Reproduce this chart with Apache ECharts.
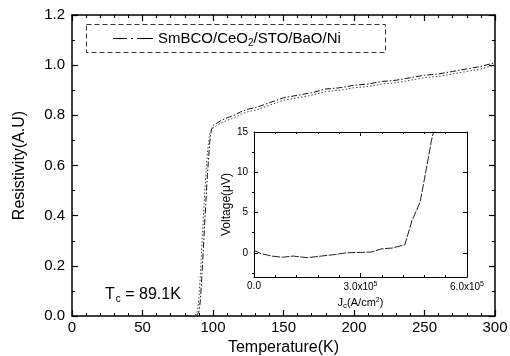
<!DOCTYPE html>
<html><head><meta charset="utf-8">
<script src="https://cdn.jsdelivr.net/npm/echarts@6/dist/echarts.min.js"></script>
<style>html,body{margin:0;padding:0;background:#fff}#c{width:510px;height:356px}</style>
</head><body><div id="c"></div>
<script>
// Main R(T) data
const temps1 = [80,85,88,89,90,91,92,93,94,95,96,97,98,99,100,103,106,110,115,120,125,130,135,140,145,150,160,170,180,190,200,210,220,230,240,250,260,270,280,290,300];
const resist1 = [0,0,0,0.003,0.015,0.06,0.15,0.25,0.36,0.46,0.56,0.64,0.71,0.745,0.76,0.77,0.78,0.79,0.80,0.815,0.825,0.83,0.84,0.85,0.86,0.87,0.88,0.89,0.905,0.91,0.92,0.925,0.935,0.94,0.95,0.96,0.965,0.975,0.985,0.995,1.01];
const temps2 = [80,85,87,88,89,90,91,92,93,94,95,96,97,98,100,103,106,110,115,120,125,130,135,140,145,150,160,170,180,190,200,210,220,230,240,250,260,270,280,290,300];
const resist2 = [0,0,0,0.004,0.02,0.07,0.16,0.27,0.38,0.48,0.57,0.65,0.7,0.735,0.75,0.76,0.77,0.78,0.79,0.805,0.815,0.82,0.83,0.84,0.85,0.86,0.87,0.88,0.895,0.9,0.91,0.915,0.925,0.93,0.94,0.95,0.955,0.965,0.975,0.985,1.0];
// Inset V(Jc) data
const jc = [0,20000,50000,80000,110000,150000,190000,230000,260000,300000,330000,360000,390000,425000,445000,468000,490000,500000,506000];
const volt = [0.3,-0.1,-0.4,-0.55,-0.4,-0.6,-0.4,-0.2,0,0.05,0.1,0.5,0.6,1.0,4.0,6.3,11.5,14,15];
const insetXLabels = [0,300000,600000];
const insetYLabels = [0,5,10,15];
const insetYMinor = [-2.5,2.5,7.5,12.5];

const FONT = 'Liberation Sans';
const chart = echarts.init(document.getElementById('c'), null, {renderer:'canvas'});
function axLine(w){ return {show:true, onZero:false, lineStyle:{color:'#000', width:w}}; }
function mTick(){ return {show:true, inside:true, length:6, lineStyle:{color:'#000',width:1.2}}; }
function mMinor(n){ return {show:true, splitNumber:n, length:3, lineStyle:{color:'#000',width:1}}; }
function pair(xs, ys){ return xs.map((x,i)=>[x, ys[i]]); }

chart.setOption({
  animation:false,
  backgroundColor:'#fff',
  textStyle:{fontFamily:FONT},
  grid:[{left:72, right:15, top:15, bottom:40, outerBoundsMode:'none', containLabel:false},
        {left:254, right:43, top:132, bottom:79, outerBoundsMode:'none', containLabel:false}],
  legend:{
    data:['SmBCO/CeO2/STO/BaO/Ni'],
    left:108, top:26, itemWidth:40, itemHeight:10,
    icon:'path://M0,5L14,5L14,6L0,6Z M18,5L20,5L20,6L18,6Z M24,5L40,5L40,6L24,6Z',
    itemStyle:{color:'#000'},
    formatter:function(){ return '{t|SmBCO/CeO}{s|2}{t|/STO/BaO/Ni}'; },
    textStyle:{rich:{t:{fontSize:15,fontFamily:FONT,color:'#000'}, s:{fontSize:10,fontFamily:FONT,color:'#000',verticalAlign:'bottom',padding:[10,0,0,0]}}}
  },
  xAxis:[
    {gridIndex:0, type:'value', min:0, max:300, interval:50, axisLine:axLine(1.5),
     axisTick:mTick(), minorTick:mMinor(5),
     axisLabel:{color:'#000', fontSize:15, margin:4, fontFamily:FONT},
     splitLine:{show:false},
     name:'Temperature(K)', nameLocation:'middle', nameGap:20, nameTextStyle:{color:'#000', fontSize:16, fontFamily:FONT}},
    {gridIndex:0, type:'value', position:'top', min:0, max:300, interval:50, axisLine:axLine(1.5),
     axisTick:mTick(), minorTick:mMinor(5),
     axisLabel:{show:false}, splitLine:{show:false}},
    {gridIndex:1, type:'value', min:0, max:600000, interval:300000, axisLine:axLine(1),
     axisTick:{show:true, inside:true, length:4, lineStyle:{color:'#000'}},
     minorTick:{show:true, splitNumber:5, length:2, lineStyle:{color:'#000'}},
     axisLabel:{color:'#000', margin:4, fontSize:10, customValues:insetXLabels,
       formatter:function(v){ if(v===0) return '{b|0.0}'; return '{b|'+(v/100000).toFixed(1)+'x10}{s|5}'; },
       rich:{b:{fontSize:10,fontFamily:FONT,color:'#000'}, s:{fontSize:7,fontFamily:FONT,color:'#000',verticalAlign:'top',padding:[0,0,6,0]}}},
     splitLine:{show:false},
     name:'{t|J}{s|c}{t|(A/cm}{u|2}{t|)}', nameLocation:'middle', nameGap:19,
     nameTextStyle:{rich:{t:{fontSize:11,fontFamily:FONT,color:'#000'}, s:{fontSize:8,fontFamily:FONT,color:'#000',padding:[6,0,0,0]}, u:{fontSize:7,fontFamily:FONT,color:'#000',padding:[0,0,6,0]}}}},
    {gridIndex:1, type:'value', position:'top', min:0, max:600000, interval:300000, axisLine:axLine(1),
     axisTick:{show:true, inside:true, length:4, lineStyle:{color:'#000'}},
     minorTick:{show:true, splitNumber:5, length:2, lineStyle:{color:'#000'}},
     axisLabel:{show:false}, splitLine:{show:false}}
  ],
  yAxis:[
    {gridIndex:0, type:'value', min:0, max:1.2, interval:0.2, axisLine:axLine(1.5),
     axisTick:mTick(), minorTick:mMinor(2),
     axisLabel:{color:'#000', fontSize:15, margin:7, fontFamily:FONT, formatter:v=>v.toFixed(1)},
     splitLine:{show:false},
     name:'Resistivity(A.U)', nameLocation:'middle', nameGap:44, nameTextStyle:{color:'#000', fontSize:16, fontFamily:FONT}},
    {gridIndex:0, type:'value', position:'right', min:0, max:1.2, interval:0.2, axisLine:axLine(1.5),
     axisTick:mTick(), minorTick:mMinor(2),
     axisLabel:{show:false}, splitLine:{show:false}},
    {gridIndex:1, type:'value', min:-3, max:15, axisLine:axLine(1),
     axisTick:{show:true, inside:true, length:4, customValues:insetYLabels, lineStyle:{color:'#000'}},
     axisLabel:{color:'#000', fontSize:10, margin:6, fontFamily:FONT, customValues:insetYLabels},
     splitLine:{show:false},
     name:'Voltage(μV)', nameLocation:'middle', nameGap:17, nameTextStyle:{color:'#000', fontSize:12, fontFamily:FONT}},
    {gridIndex:1, type:'value', min:-3, max:15, axisLine:{show:false},
     axisTick:{show:true, inside:true, length:2, customValues:insetYMinor, lineStyle:{color:'#000'}},
     axisLabel:{show:false}, splitLine:{show:false}},
    {gridIndex:1, type:'value', position:'right', min:-3, max:15, axisLine:axLine(1),
     axisTick:{show:true, inside:true, length:4, customValues:insetYLabels, lineStyle:{color:'#000'}},
     axisLabel:{show:false}, splitLine:{show:false}},
    {gridIndex:1, type:'value', position:'right', min:-3, max:15, axisLine:{show:false},
     axisTick:{show:true, inside:true, length:2, customValues:insetYMinor, lineStyle:{color:'#000'}},
     axisLabel:{show:false}, splitLine:{show:false}}
  ],
  graphic:[
    {type:'rect', left:84, top:22, shape:{width:299, height:28}, z:-1,
     style:{fill:'none', stroke:'#333', lineWidth:1, lineDash:[5,3]}},
    {type:'text', left:105, top:287, z:10,
     style:{text:'{t|T}{s|c}{t| = 89.1K}', rich:{t:{fontSize:16,fontFamily:FONT,fill:'#000'}, s:{fontSize:10,fontFamily:FONT,fill:'#000',padding:[8,0,0,1]}}}}
  ],
  series:[
    {name:'SmBCO/CeO2/STO/BaO/Ni', type:'line', xAxisIndex:0, yAxisIndex:0, data:pair(temps1,resist1),
     showSymbol:false, symbol:'none', lineStyle:{color:'#111', width:1, type:[6,2,1.5,2]}, z:2},
    {name:'trace2', type:'line', xAxisIndex:0, yAxisIndex:0, data:pair(temps2,resist2),
     showSymbol:false, symbol:'none', lineStyle:{color:'#444', width:1, type:[1.5,2]}, z:2},
    {name:'inset', type:'line', xAxisIndex:2, yAxisIndex:2, data:pair(jc,volt),
     showSymbol:false, symbol:'none', lineStyle:{color:'#222', width:1, type:[8,1.5]}, z:3}
  ]
});
</script></body></html>
